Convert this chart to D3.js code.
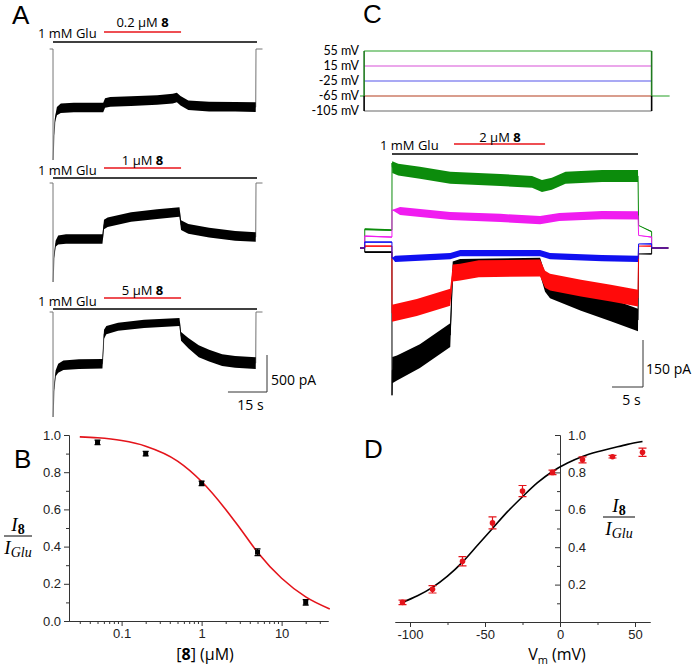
<!DOCTYPE html>
<html><head><meta charset="utf-8">
<script src="https://cdn.jsdelivr.net/npm/d3@7"></script>
<style>body{margin:0;background:#fff}svg{display:block}</style>
</head><body>
<script>
// ================= DATA =================
// ---- Panel A : whole-cell currents (time s, current pA, noise half-width pA) ----
const aConcentrations = ["0.2", "1", "5"];
const aGluWindow = [0, 78];
const aDrugWindow = [19.6, 49.2];
const aTime1 = [-1.3, 0, 0.02, 0.4, 0.8, 1.5, 3, 8, 19.3, 20, 22, 30, 40, 46, 47.6, 49, 52, 60, 70, 77.9, 78, 80.5];
const aCurrent1 = [0, 0, -1500, -1150, -950, -840, -800, -790, -790, -730, -715, -705, -690, -670, -655, -700, -760, -778, -780, -785, 0, 0];
const aNoise1 = [0, 0, 0, 15, 35, 55, 65, 65, 65, 65, 65, 65, 65, 65, 65, 65, 65, 65, 65, 65, 0, 0];
const aTime2 = [-1.3, 0, 0.02, 0.4, 1, 2, 5, 19, 19.6, 21, 30, 40, 48.6, 49.2, 52, 60, 70, 77.9, 78, 80.5];
const aCurrent2 = [0, 0, -1338, -1000, -820, -770, -757, -757, -560, -530, -460, -420, -392, -570, -620, -670, -715, -730, 0, 0];
const aNoise2 = [0, 0, 0, 15, 40, 60, 65, 65, 65, 65, 65, 65, 65, 65, 65, 65, 65, 65, 0, 0];
const aTime3 = [-1.3, 0, 0.02, 0.4, 1, 2, 4, 10, 19, 19.6, 20.5, 25, 35, 48.6, 49.2, 52, 56, 60, 65, 70, 77.9, 78, 80.5];
const aCurrent3 = [0, 0, -1419, -1050, -830, -760, -720, -705, -700, -300, -245, -200, -160, -135, -330, -420, -530, -590, -650, -675, -690, 0, 0];
const aNoise3 = [0, 0, 0, 15, 40, 60, 65, 65, 65, 60, 55, 55, 55, 55, 60, 70, 80, 80, 80, 80, 80, 0, 0];
const aScaleBar = [15, 500]; // s, pA

// ---- Panel B : concentration-response ----
const bConc = [0.05, 0.2, 1, 5, 20];
const bRatio = [0.96, 0.90, 0.74, 0.37, 0.10];
const bErr = [0.012, 0.012, 0.012, 0.018, 0.015];
const bFitConc = [0.03, 0.05, 0.1, 0.2, 0.5, 1, 2, 3, 5, 10, 20, 40];
const bFitRatio = [0.99, 0.985, 0.97, 0.94, 0.86, 0.75, 0.60, 0.50, 0.37, 0.23, 0.13, 0.065];
const bXTicks = [0.1, 1, 10];
const bYTicks = [0.0, 0.2, 0.4, 0.6, 0.8, 1.0];

// ---- Panel C : voltage protocol and currents ----
const cVoltages = [55, 15, -25, -65, -105];
const cVoltLabels = ["55 mV", "15 mV", "-25 mV", "-65 mV", "-105 mV"];
const cStepWindow = [-4.5, 41.9];
const cHoldWindow = [-5.16, 44.8];
const cGluWindow = [0, 39.7];
const cDrugWindow = [10, 24.7];
const cGreenT = [-5.16, -4.4, -4.4, -0.01, 0, 0.05, 1, 4.5, 9.4, 17.5, 22.6, 24.2, 25.8, 28, 33.9, 39.7, 39.8, 41.9, 41.9, 44.6];
const cGreenI = [0, 0, 60, 57, 271, 258, 250, 240, 224, 217, 211, 198, 205, 224, 230, 230, 72, 52, 0, 0];
const cGreenN = [0, 0, 3, 3, 0, 19, 19, 19, 19, 19, 19, 19, 19, 19, 19, 19, 0, 2, 0, 0];
const cMagentaT = [-5.16, -4.4, -4.4, -0.01, 0, 1.3, 9.4, 17.5, 23.9, 27, 33.9, 39.7, 39.8, 41.9, 41.9, 44.6];
const cMagentaI = [0, 0, 38, 35, 121, 118, 102, 96, 89, 99, 105, 104, 40, 35, 0, 0];
const cMagentaN = [0, 0, 2, 2, 0, 13, 13, 13, 13, 13, 13, 13, 0, 2, 0, 0];
const cBlueT = [-5.16, -4.4, -4.4, -0.01, 0, 0.5, 9.4, 11, 23.9, 25.5, 33.9, 39.7, 39.8, 41.9, 41.9, 44.6];
const cBlueI = [0, 0, 19, 19, -32, -35, -26, -16, -16, -26, -32, -35, 13, 13, 0, 0];
const cBlueN = [0, 0, 2, 2, 0, 10, 10, 10, 10, 10, 10, 10, 0, 2, 0, 0];
const cRedT = [-5.16, -4.4, -4.4, -0.01, 0, 4, 9.4, 9.8, 11, 14, 23.9, 24.7, 25.5, 30.5, 35.3, 39.7, 39.8, 41.9, 41.9, 44.6];
const cRedI = [0, 0, 6, 6, -208, -190, -157, -80, -77, -66, -64, -100, -109, -128, -144, -160, 6, 6, 0, 0];
const cRedN = [0, 0, 2, 2, 27, 27, 27, 27, 27, 27, 27, 27, 27, 27, 27, 27, 0, 2, 0, 0];
const cBlackT = [-5.16, -4.4, -4.4, -0.01, 0, 0.05, 0.8, 4.5, 9.4, 9.8, 11, 23.9, 24.7, 25.5, 30.5, 35.3, 39.7, 39.8, 41.9, 41.9, 44.6];
const cBlackI = [0, 0, -13, -13, -470, -390, -383, -345, -278, -70, -62, -58, -110, -128, -166, -198, -230, -19, -19, 0, 0];
const cBlackN = [0, 0, 3, 3, 0, 42, 40, 38, 38, 27, 27, 27, 30, 32, 34, 36, 36, 0, 2, 0, 0];
const cScaleBar = [5, 150]; // s, pA

// ---- Panel D : voltage dependence ----
const dVm = [-105, -85, -65, -45, -25, -5, 15, 35, 55];
const dRatio = [0.105, 0.175, 0.325, 0.53, 0.70, 0.80, 0.867, 0.884, 0.908];
const dErr = [0.012, 0.02, 0.025, 0.032, 0.03, 0.012, 0.016, 0.007, 0.022];
const dFitVm = [-105, -95, -85, -75, -65, -55, -45, -35, -25, -15, -5, 5, 15, 25, 35, 45, 55];
const dFitRatio = [0.105, 0.14, 0.185, 0.245, 0.32, 0.41, 0.50, 0.59, 0.67, 0.745, 0.805, 0.85, 0.885, 0.91, 0.93, 0.95, 0.965];
const dXTicks = [-100, -50, 0, 50];
const dYTicks = [0.2, 0.4, 0.6, 0.8, 1.0];

// ================= DRAWING =================
const W = 696, H = 667;
const FONT = "'Open Sans', 'Liberation Sans', sans-serif";
const LATO = "Lato, 'Open Sans', sans-serif";
const TICKFONT = "'Liberation Sans', Arial, sans-serif";
const SERIF = "'Liberation Serif', 'DejaVu Serif', serif";
const svg = d3.select("body").append("svg").attr("width", W).attr("height", H)
  .style("background", "#fff");

function txt(g, x, y, s, size, anchor, fam) {
  return g.append("text").attr("x", x).attr("y", y).attr("font-family", fam || FONT)
    .attr("font-size", size).attr("fill", "#000").attr("text-anchor", anchor || "start").text(s);
}
function drugText(g, x, y, conc, size) {
  const t = g.append("text").attr("x", x).attr("y", y).attr("font-family", FONT)
    .attr("font-size", size).attr("text-anchor", "middle");
  t.append("tspan").text(conc + " \u00B5M ");
  t.append("tspan").attr("font-weight", "bold").text("8");
}
function zip(T, I, N) { return T.map((t, k) => ({ t, v: I[k], n: N[k] })); }

// Panel letters
[["A", 12, 24], ["B", 14, 468], ["C", 363, 23], ["D", 364, 458]].forEach(([l, x, y]) =>
  txt(svg, x, y, l, 26, "start", TICKFONT));

// ---------- Panel A ----------
const xA = d3.scaleLinear().domain([0, 78]).range([53, 256]);
const yA = d3.scaleLinear().domain([0, -1000]).range([0, 74]);
const aTraces = [zip(aTime1, aCurrent1, aNoise1), zip(aTime2, aCurrent2, aNoise2), zip(aTime3, aCurrent3, aNoise3)];
const aLayout = [
  { base: 49, glu: 42, gluText: 38, drug: 32, drugText: 27 },
  { base: 183, glu: 178, gluText: 175, drug: 168, drugText: 165 },
  { base: 312, glu: 309, gluText: 306, drug: 298, drugText: 295 }
];
const aArea = d3.area().x(d => xA(d.t)).y0(d => yA(d.v - d.n)).y1(d => yA(d.v + d.n));
const aLine = d3.line().x(d => xA(d.t)).y(d => yA(d.v));
aTraces.forEach((tr, r) => {
  const L = aLayout[r];
  const g = svg.append("g").attr("transform", `translate(0,${L.base})`);
  g.append("path").attr("d", aLine(tr)).attr("fill", "none").attr("stroke", "#777").attr("stroke-width", 1);
  g.append("path").attr("d", aArea(tr)).attr("fill", "#000");
  svg.append("line").attr("x1", xA(aGluWindow[0])).attr("x2", xA(aGluWindow[1]) + 1)
    .attr("y1", L.glu).attr("y2", L.glu).attr("stroke", "#000").attr("stroke-width", 1.6);
  svg.append("line").attr("x1", xA(aDrugWindow[0])).attr("x2", xA(aDrugWindow[1]))
    .attr("y1", L.drug).attr("y2", L.drug).attr("stroke", "#e8141a").attr("stroke-width", 1.6);
  txt(svg, 38, L.gluText, "1 mM Glu", 13);
  drugText(svg, (xA(aDrugWindow[0]) + xA(aDrugWindow[1])) / 2, L.drugText, aConcentrations[r], 13);
});
{
  const x0 = 267, y0 = 392;
  const dx = xA(aScaleBar[0]) - xA(0), dy = yA(-aScaleBar[1]) - yA(0);
  svg.append("path").attr("d", `M${x0 - dx},${y0}H${x0}V${y0 - dy}`).attr("fill", "none")
    .attr("stroke", "#333").attr("stroke-width", 1);
  txt(svg, x0 + 4, 385, aScaleBar[1] + " pA", 14);
  txt(svg, x0 - dx / 2 + 3, 410, aScaleBar[0] + " s", 14, "middle");
}

// ---------- Panel B ----------
const xB = d3.scaleLog().domain([0.022, 38]).range([69, 328]);
const yB = d3.scaleLinear().domain([0, 1]).range([621, 435]);
const gB = svg.append("g");
const bMinorX = [0.03, 0.04, 0.05, 0.06, 0.07, 0.08, 0.09, 0.2, 0.3, 0.4, 0.5, 0.6, 0.7, 0.8, 0.9,
  2, 3, 4, 5, 6, 7, 8, 9, 20, 30];
gB.append("g").attr("transform", "translate(0,621)")
  .call(d3.axisBottom(xB).tickValues(bMinorX).tickFormat("").tickSize(3).tickSizeOuter(0));
gB.append("g").attr("transform", "translate(0,621)")
  .call(d3.axisBottom(xB).tickValues(bXTicks).tickFormat(d3.format("~g")).tickSize(5).tickSizeOuter(0).tickPadding(3));
gB.append("g").attr("transform", "translate(69,0)")
  .call(d3.axisLeft(yB).tickValues([0.1, 0.3, 0.5, 0.7, 0.9]).tickFormat("").tickSize(3).tickSizeOuter(0));
gB.append("g").attr("transform", "translate(69,0)")
  .call(d3.axisLeft(yB).tickValues(bYTicks).tickFormat(d3.format(".1f")).tickSize(5).tickSizeOuter(0).tickPadding(3));
gB.selectAll("text").attr("font-family", TICKFONT).attr("font-size", 13).attr("fill", "#222");
gB.selectAll("path,line").attr("stroke", "#333");
const bFit = bFitConc.map((c, k) => [c, bFitRatio[k]]);
gB.append("path").attr("d", d3.line().curve(d3.curveMonotoneX).x(d => xB(d[0])).y(d => yB(d[1]))(bFit))
  .attr("fill", "none").attr("stroke", "#e4141b").attr("stroke-width", 1.6);
bConc.forEach((c, k) => {
  const x = xB(c), y = yB(bRatio[k]), e = yB(bRatio[k] - bErr[k]) - y;
  gB.append("path").attr("d", `M${x},${y - e}V${y + e}M${x - 3},${y - e}H${x + 3}M${x - 3},${y + e}H${x + 3}`)
    .attr("stroke", "#000").attr("stroke-width", 1.2).attr("fill", "none");
  gB.append("rect").attr("x", x - 2.5).attr("y", y - 2.5).attr("width", 5).attr("height", 5).attr("fill", "#000");
});
{
  const t = gB.append("text").attr("x", 205).attr("y", 660).attr("font-family", FONT).attr("font-size", 16).attr("text-anchor", "middle");
  t.append("tspan").text("[");
  t.append("tspan").attr("font-weight", "bold").text("8");
  t.append("tspan").text("] (\u00B5M)");
}
function fraction(g, cx, lineY, x0, x1) {
  const n = g.append("text").attr("x", cx).attr("y", lineY - 5).attr("text-anchor", "middle")
    .attr("font-family", SERIF).attr("font-size", 19).attr("font-style", "italic");
  n.append("tspan").text("I");
  n.append("tspan").attr("font-style", "normal").attr("font-weight", "bold").attr("font-size", 14).attr("dy", 3).text("8");
  g.append("line").attr("x1", x0).attr("x2", x1).attr("y1", lineY).attr("y2", lineY).attr("stroke", "#000").attr("stroke-width", 1);
  const d = g.append("text").attr("x", cx).attr("y", lineY + 18).attr("text-anchor", "middle")
    .attr("font-family", SERIF).attr("font-size", 19).attr("font-style", "italic");
  d.append("tspan").text("I");
  d.append("tspan").attr("font-size", 14).attr("dy", 3).text("Glu");
}
fraction(gB, 18, 536, 4, 32);

// ---------- Panel C ----------
const xC = d3.scaleLinear().domain([0, 39.7]).range([392, 638]);
const yC = d3.scaleLinear().domain([0, 150]).range([248, 201]);
const yV = d3.scaleLinear().domain([-105, 55]).range([111, 51]);
const gC = svg.append("g");
const protoColors = ["#6cbf6c", "#e58ae5", "#8d8df0", "#f28c8c", "#9a9a9a"];
gC.append("line").attr("x1", xC(cHoldWindow[0])).attr("x2", xC(cHoldWindow[1]))
  .attr("y1", yV(-65)).attr("y2", yV(-65)).attr("stroke", "#6cbf6c").attr("stroke-width", 1.4);
cVoltages.forEach((v, k) => {
  gC.append("line").attr("x1", xC(cStepWindow[0])).attr("x2", xC(cStepWindow[1]))
    .attr("y1", yV(v)).attr("y2", yV(v)).attr("stroke", protoColors[k]).attr("stroke-width", 1.4);
  txt(gC, 359, yV(v) + 4, cVoltLabels[k], 12.5, "end", LATO);
});
[cStepWindow[0], cStepWindow[1]].forEach(t => {
  gC.append("line").attr("x1", xC(t)).attr("x2", xC(t)).attr("y1", yV(55)).attr("y2", yV(-65))
    .attr("stroke", "#1f7a1f").attr("stroke-width", 1.6);
  gC.append("line").attr("x1", xC(t)).attr("x2", xC(t)).attr("y1", yV(-65)).attr("y2", yV(-105))
    .attr("stroke", "#000").attr("stroke-width", 1.6);
});
gC.append("line").attr("x1", xC(cGluWindow[0])).attr("x2", xC(cGluWindow[1])).attr("y1", 154).attr("y2", 154)
  .attr("stroke", "#000").attr("stroke-width", 1.6);
gC.append("line").attr("x1", xC(cDrugWindow[0])).attr("x2", xC(cDrugWindow[1])).attr("y1", 144).attr("y2", 144)
  .attr("stroke", "#e8141a").attr("stroke-width", 1.6);
txt(gC, 380, 150, "1 mM Glu", 13);
drugText(gC, 500, 142, "2", 13);
const cAreaGen = d3.area().x(d => xC(d.t)).y0(d => yC(d.v - d.n)).y1(d => yC(d.v + d.n));
const cLineGen = d3.line().x(d => xC(d.t)).y(d => yC(d.v));
[
  [cGreenT, cGreenI, cGreenN, "#0c8c0c"],
  [cMagentaT, cMagentaI, cMagentaN, "#f01cf0"],
  [cBlackT, cBlackI, cBlackN, "#000000"],
  [cRedT, cRedI, cRedN, "#ff0a0a"],
  [cBlueT, cBlueI, cBlueN, "#1010f0"]
].forEach(([T, I, N, col]) => {
  const tr = zip(T, I, N);
  gC.append("path").attr("d", cLineGen(tr)).attr("fill", "none").attr("stroke", col).attr("stroke-width", 1);
  gC.append("path").attr("d", cAreaGen(tr)).attr("fill", col);
});
{
  const x0 = 643, y0 = 387;
  const dx = xC(cScaleBar[0]) - xC(0), dy = yC(0) - yC(cScaleBar[1]);
  gC.append("path").attr("d", `M${x0 - dx},${y0}H${x0}V${y0 - dy}`).attr("fill", "none")
    .attr("stroke", "#333").attr("stroke-width", 1);
  txt(gC, x0 + 3, 374, cScaleBar[1] + " pA", 14);
  txt(gC, x0 - dx / 2 + 4, 405, cScaleBar[0] + " s", 14, "middle");
}

// ---------- Panel D ----------
const xD = d3.scaleLinear().domain([-110, 60]).range([395, 650]);
const yD = d3.scaleLinear().domain([0, 1]).range([622, 435]);
const gD = svg.append("g");
gD.append("g").attr("transform", "translate(0,622)")
  .call(d3.axisBottom(xD).tickValues([-75, -25, 25]).tickFormat("").tickSize(3).tickSizeOuter(0));
gD.append("g").attr("transform", "translate(0,622)")
  .call(d3.axisBottom(xD).tickValues(dXTicks).tickSize(5).tickSizeOuter(0).tickPadding(3).tickFormat(d3.format("d")));
gD.append("g").attr("transform", `translate(${xD(0)},0)`)
  .call(d3.axisRight(yD).tickValues([0.1, 0.3, 0.5, 0.7, 0.9]).tickFormat("").tickSizeInner(-3).tickSizeOuter(0));
gD.append("g").attr("transform", `translate(${xD(0)},0)`)
  .call(d3.axisRight(yD).tickValues(dYTicks).tickFormat(d3.format(".1f")).tickSizeInner(-5).tickSizeOuter(0).tickPadding(8));
gD.selectAll("text").attr("font-family", TICKFONT).attr("font-size", 13).attr("fill", "#222");
gD.selectAll("path,line").attr("stroke", "#333");
gD.selectAll(".tick text").filter(function () { return this.textContent.startsWith("\u2212"); })
  .text(function () { return this.textContent.replace("\u2212", "-"); });
const dFit = dFitVm.map((v, k) => [v, dFitRatio[k]]);
gD.append("path").attr("d", d3.line().curve(d3.curveMonotoneX).x(d => xD(d[0])).y(d => yD(d[1]))(dFit))
  .attr("fill", "none").attr("stroke", "#000").attr("stroke-width", 1.6);
dVm.forEach((v, k) => {
  const x = xD(v), y = yD(dRatio[k]), e = yD(dRatio[k] - dErr[k]) - y;
  gD.append("path").attr("d", `M${x},${y - e}V${y + e}M${x - 4},${y - e}H${x + 4}M${x - 4},${y + e}H${x + 4}`)
    .attr("stroke", "#e4141b").attr("stroke-width", 1.2).attr("fill", "none");
  gD.append("circle").attr("cx", x).attr("cy", y).attr("r", 2.8).attr("fill", "#e4141b");
});
{
  const t = gD.append("text").attr("x", 557).attr("y", 660).attr("font-family", FONT).attr("font-size", 16).attr("text-anchor", "middle");
  t.append("tspan").text("V");
  t.append("tspan").attr("font-size", 11).attr("dy", 4).text("m");
  t.append("tspan").attr("dy", -4).text(" (mV)");
}
fraction(gD, 619, 517, 603, 635);
</script>
</body></html>
